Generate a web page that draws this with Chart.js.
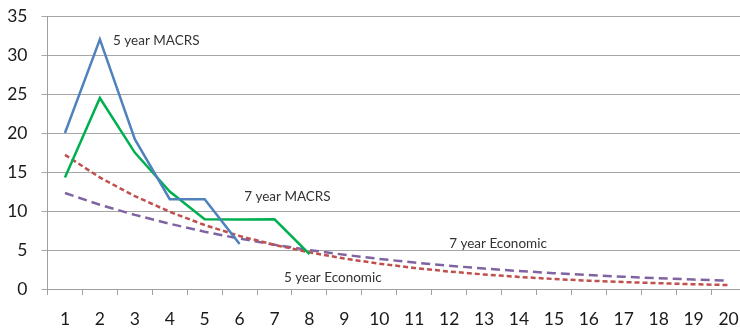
<!DOCTYPE html>
<html>
<head>
<meta charset="utf-8">
<script src="https://cdn.jsdelivr.net/npm/chart.js@4/dist/chart.umd.min.js"></script>
<style>
html,body{margin:0;padding:0;background:#fff;overflow:hidden;width:740px;height:330px;}
#outer{position:absolute;left:0;top:0;width:740px;height:330px;overflow:hidden;}
#c{position:absolute;left:0;top:0;}
</style>
</head>
<body>
<div id="outer"><canvas id="c" width="746" height="330" style="width:746px;height:330px;"></canvas></div>
<script>
const years = ['1','2','3','4','5','6','7','8','9','10','11','12','13','14','15','16','17','18','19','20'];
const macrs5 = [20, 32, 19.2, 11.52, 11.52, 5.76];
const macrs7 = [14.29, 24.49, 17.49, 12.49, 8.93, 8.92, 8.93, 4.46];
const econ5 = [17.2, 14.3, 11.9, 9.9, 8.2, 6.8, 5.65, 4.7, 3.9, 3.25, 2.7, 2.24, 1.86, 1.55, 1.28, 1.07, 0.89, 0.74, 0.61, 0.51];
const econ7 = [12.3, 10.8, 9.5, 8.36, 7.35, 6.46, 5.68, 4.99, 4.39, 3.86, 3.39, 2.98, 2.62, 2.31, 2.03, 1.78, 1.57, 1.38, 1.21, 1.07];
const yTicks = [0, 5, 10, 15, 20, 25, 30, 35];
const labelTexts = ['5 year MACRS', '7 year MACRS', '7 year Economic', '5 year Economic'];
const labelX = [1.375, 5.13, 11.0, 6.27];
const labelY = [31.9, 11.9, 5.77, 1.4];

const FONT = 'Lato, "Open Sans", sans-serif';

const textPlugin = {
  id: 'seriesText',
  afterDatasetsDraw(chart) {
    const ctx = chart.ctx;
    const xs = chart.scales.x, ys = chart.scales.y;
    ctx.save();
    ctx.font = '13.5px ' + FONT;
    ctx.fillStyle = '#333333';
    ctx.textAlign = 'left';
    ctx.textBaseline = 'middle';
    labelTexts.forEach((t, i) => {
      ctx.fillText(t, xs.getPixelForValue(labelX[i]), ys.getPixelForValue(labelY[i]));
    });
    ctx.restore();
  }
};

new Chart(document.getElementById('c'), {
  type: 'line',
  data: {
    labels: years,
    datasets: [
      {label: '5 year MACRS', data: macrs5, borderColor: '#4F81BD', borderWidth: 2.5, pointRadius: 0, tension: 0, fill: false},
      {label: '7 year MACRS', data: macrs7, borderColor: '#00B050', borderWidth: 2.5, pointRadius: 0, tension: 0, fill: false},
      {label: '5 year Economic', data: econ5, borderColor: '#C0504D', borderWidth: 2.5, borderDash: [5, 3], pointRadius: 0, tension: 0, fill: false},
      {label: '7 year Economic', data: econ7, borderColor: '#8064A2', borderWidth: 2.5, borderDash: [9, 5], pointRadius: 0, tension: 0, fill: false}
    ]
  },
  options: {
    responsive: false,
    maintainAspectRatio: false,
    devicePixelRatio: 1,
    animation: false,
    layout: {padding: {top: 16, left: 7.5, right: 0, bottom: 1.6}},
    plugins: {legend: {display: false}, tooltip: {enabled: false}},
    scales: {
      x: {
        offset: true,
        afterFit(s) { s.height = 39.4; s.paddingLeft = 0; s.paddingRight = 0; },
        grid: {offset: true, drawOnChartArea: false, drawTicks: true, tickLength: 6, color: '#A0A0A0'},
        border: {color: '#A0A0A0', width: 1},
        ticks: {color: '#1a1a1a', font: {family: FONT, size: 17.5}, padding: 14, maxRotation: 0, autoSkip: false}
      },
      y: {
        min: 0, max: 35,
        afterFit(s) { s.width = 40; s.paddingTop = 0; s.paddingBottom = 0; },
        afterBuildTicks(axis) { axis.ticks = yTicks.map(v => ({value: v})); },
        grid: {color: '#A6A6A6', tickLength: 6, lineWidth: 1},
        border: {color: '#A0A0A0', width: 1},
        ticks: {color: '#1a1a1a', font: {family: FONT, size: 17.5}, padding: 14}
      }
    }
  },
  plugins: [textPlugin]
});
</script>
</body>
</html>
